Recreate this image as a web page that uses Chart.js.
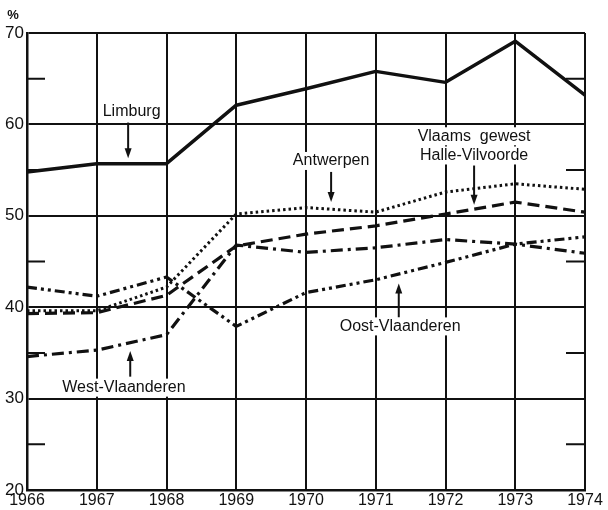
<!DOCTYPE html>
<html>
<head>
<meta charset="utf-8">
<script src="https://cdn.jsdelivr.net/npm/chart.js@4.4.1/dist/chart.umd.min.js"></script>
<style>
  html, body { margin: 0; padding: 0; background: #fff; }
  #chart { display: block; }
</style>
</head>
<body>
<canvas id="chart" width="608" height="510"></canvas>
<script>
/* ---- data ---- */
const years = ['1966', '1967', '1968', '1969', '1970', '1971', '1972', '1973', '1974'];
const limburg        = [54.8, 55.7, 55.7, 62.1, 63.9, 65.8, 64.6, 69.1, 63.2];
const antwerpen      = [39.6, 39.6, 42.2, 50.2, 50.9, 50.4, 52.6, 53.5, 52.9];
const halleVilvoorde = [39.3, 39.4, 41.3, 46.7, 48.0, 48.9, 50.2, 51.5, 50.4];
const westVlaanderen = [34.6, 35.3, 37.0, 46.8, 46.0, 46.5, 47.4, 46.9, 45.9];
const oostVlaanderen = [42.2, 41.2, 43.3, 37.9, 41.6, 43.0, 44.9, 46.9, 47.7];
const yMin = 20, yMax = 70, yStep = 5;

const INK = '#111';
const FONT = '"Liberation Sans", Arial, sans-serif';

/* labels and arrows in data coordinates (x = year index, y = %) */
const labels = [
  { text: 'Limburg',         x: 1.50, y: 61.4 },
  { text: 'Antwerpen',       x: 4.36, y: 56.0 },
  { text: 'Vlaams  gewest',  x: 6.41, y: 58.7 },
  { text: 'Halle-Vilvoorde', x: 6.41, y: 56.6 },
  { text: 'Oost-Vlaanderen', x: 5.35, y: 37.9 },
  { text: 'West-Vlaanderen', x: 1.39, y: 31.2 },
];
const arrows = [
  { x: 1.45, from: 60.2, to: 56.3 },
  { x: 4.36, from: 54.8, to: 51.5 },
  { x: 6.41, from: 55.5, to: 51.2 },
  { x: 5.33, from: 38.9, to: 42.6 },
  { x: 1.48, from: 32.4, to: 35.2 },
];

/* ---- plugin: short ticks at the 5s, "%" and the callouts ---- */
const decor = {
  id: 'decor',
  beforeDatasetsDraw(chart) {
    const { ctx, chartArea: a, scales: { y } } = chart;
    ctx.save();
    ctx.strokeStyle = INK;
    ctx.lineWidth = 2;
    for (let v = yMin + 5; v < yMax; v += 10) {
      const py = y.getPixelForValue(v);
      ctx.beginPath();
      ctx.moveTo(a.left, py); ctx.lineTo(a.left + 18, py);
      ctx.moveTo(a.right - 19, py); ctx.lineTo(a.right, py);
      ctx.stroke();
    }
    ctx.restore();
  },
  afterDatasetsDraw(chart) {
    const { ctx, scales: { x, y } } = chart;
    const px = (i) => x.getPixelForValue(0) + i * (x.getPixelForValue(1) - x.getPixelForValue(0));
    ctx.save();
    ctx.fillStyle = INK;
    ctx.strokeStyle = INK;
    ctx.font = '16px ' + FONT;
    ctx.textAlign = 'center';
    ctx.textBaseline = 'middle';
    labels.forEach(l => {
      const w = ctx.measureText(l.text).width;
      const cx = px(l.x), cy = y.getPixelForValue(l.y);
      ctx.fillStyle = '#fff';
      ctx.fillRect(cx - w / 2 - 2, cy - 9, w + 4, 18);
      ctx.fillStyle = INK;
      ctx.fillText(l.text, cx, cy);
    });
    ctx.lineWidth = 2;
    arrows.forEach(ar => {
      const ax = px(ar.x), y0 = y.getPixelForValue(ar.from), y1 = y.getPixelForValue(ar.to);
      const dir = y1 > y0 ? 1 : -1;
      ctx.beginPath();
      ctx.moveTo(ax, y0); ctx.lineTo(ax, y1 - dir * 8);
      ctx.stroke();
      ctx.beginPath();
      ctx.moveTo(ax, y1);
      ctx.lineTo(ax - 3.5, y1 - dir * 10);
      ctx.lineTo(ax + 3.5, y1 - dir * 10);
      ctx.closePath();
      ctx.fill();
    });
    ctx.font = 'bold 13px ' + FONT;
    ctx.fillText('%', 13, 15);
    ctx.restore();
  },
};

function series(data, width, dash) {
  return {
    data,
    borderColor: INK,
    borderWidth: width,
    borderDash: dash,
    borderCapStyle: 'butt',
    borderJoinStyle: 'round',
    pointRadius: 0,
    tension: 0,
    fill: false,
  };
}

new Chart(document.getElementById('chart'), {
  type: 'line',
  data: {
    labels: years,
    datasets: [
      series(limburg, 3.5, []),
      series(antwerpen, 3, [2.5, 3]),
      series(halleVilvoorde, 3.2, [12, 6]),
      series(westVlaanderen, 3.2, [12, 5, 3, 5]),
      series(oostVlaanderen, 3.2, [10, 4, 3, 4, 3, 4]),
    ],
  },
  options: {
    responsive: false,
    devicePixelRatio: 1,
    animation: false,
    events: [],
    layout: { padding: { top: 33, right: 23, left: 0, bottom: 0 } },
    plugins: { legend: { display: false }, tooltip: { enabled: false } },
    scales: {
      x: {
        type: 'category',
        offset: false,
        grid: { color: INK, lineWidth: 2, drawTicks: false },
        border: { display: true, color: INK, width: 2.5 },
        ticks: { color: INK, font: { family: FONT, size: 16 }, padding: 1, maxRotation: 0, autoSkip: false },
        afterFit(scale) { scale.height = 20; },
      },
      y: {
        min: yMin,
        max: yMax,
        grid: {
          color: (c) => (c.tick && c.tick.value % 10 === 0 ? INK : 'rgba(0,0,0,0)'),
          lineWidth: 2,
          drawTicks: false,
        },
        border: { display: true, color: INK, width: 2.5 },
        ticks: {
          stepSize: yStep,
          color: INK,
          font: { family: FONT, size: 17 },
          padding: 3,
          callback: (v) => (v % 10 === 0 ? v : ''),
        },
        afterFit(scale) { scale.width = 27; },
      },
    },
  },
  plugins: [decor],
});
</script>
</body>
</html>
